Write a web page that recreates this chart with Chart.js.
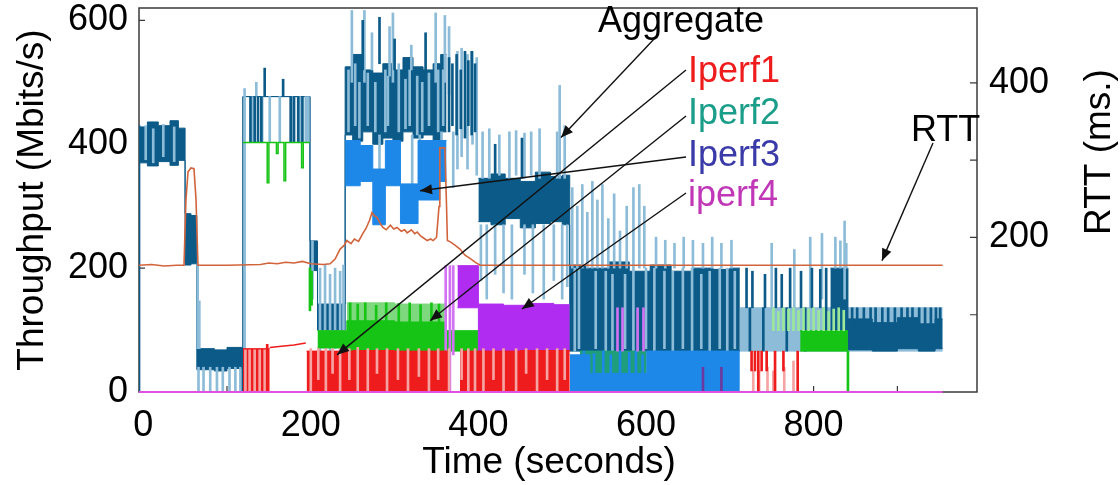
<!DOCTYPE html>
<html><head><meta charset="utf-8">
<script src="https://cdn.jsdelivr.net/npm/chart.js@4/dist/chart.umd.min.js"></script>
<style>html,body{margin:0;padding:0;background:#fff}#wrap{width:1120px;height:485px}</style>
</head><body><div id="wrap"><canvas id="c" width="1120" height="485"></canvas></div>
<script>
// ---------- DATA (time in s, throughput in Mbit/s, RTT in ms) ----------
const xTicks = [0, 200, 400, 600, 800];
const yTicks = [0, 200, 400, 600];
const rttTicks = [200, 400];

// Aggregate dense band [t, low, high]
const aggBand = [
 [-5,370,428],[5,365,436],[18,372,430],[32,366,438],[42,374,426],
 [50,205,288],[57,207,285],[64,36,70],[85,34,68],[100,38,72],
 [119,477,477],[199,196,244],[208,100,142],
 [241,415,525],[250,405,545],[262,420,520],[274,400,515],[286,410,530],[298,405,520],
 [310,420,540],[322,410,525],[334,415,520],[346,405,530],[355,420,545],[362,420,545],[362,null,null],
 [400,275,345],[415,270,352],[432,280,345],[450,265,340],[468,272,355],[486,275,348],[500,270,350],
 [509,66,205],[530,66,200],[555,66,210],[580,66,195],[605,66,205],[630,66,195],[655,66,200],
 [680,66,198],[700,66,200],[712,66,200],[712,null,null],
 [820,99,200],[841,68,118],[870,66,112],[900,70,120],[925,66,110],[945,70,118],[954,70,118]
];
const aggLightBand = [[712,66,136],[841,66,136],[954,66,136]];
const aggDarkSpikes = [
 [-5,0,430],[119,0,70],[128,403,477],[133,403,477],[137,403,477],[141,403,477],
 [145,477,523],[167,477,505],[176,403,477],[180,403,477],[185,403,477],[190,403,477],
 [262,520,600],[282,530,605],[300,520,570],[337,520,580],
 [365,420,540],[369,430,530],[374,415,545],[379,425,520],[384,410,550],[388,430,535],[392,415,550],[396,420,530],
 [420,345,400],[452,345,410],[605,0,66],[611,0,66],
 [720,136,200],[727,136,195],[742,136,190],[755,136,200],[762,136,190],[772,136,200],[785,136,195],
 [798,136,200],[808,136,198],[815,99,200],[724,66,136],[740,66,136],[768,66,136],[790,66,136],
 [846,100,136],[852,100,136],[860,100,136],[868,100,136],[874,100,136],[882,100,136],[889,100,136],[897,100,136],
 [905,100,136],[912,100,136],[918,100,136],[926,100,136],[933,100,136],[940,100,136],[946,100,136],[951,100,136]
];
const aggLightSpikes = [
 [3,375,430],[12,370,425],[24,380,432],[37,372,428],
 [65,70,207],[67,70,147],[66,0,40],[72,0,40],[80,0,40],[88,0,40],[95,0,40],[103,0,40],[110,0,40],[116,0,40],
 [121,70,490],[130,403,477],[135,477,500],[142,403,477],[151,403,477],[163,403,477],[178,403,477],[187,403,477],[194,403,477],[197,403,477],
 [202,150,244],[211,60,200],[217,70,205],[223,60,190],[229,70,200],[235,65,195],[239,100,205],
 [249,500,616],[264,500,616],[273,520,580],[294,510,590],[298,500,612],[320,520,560],[349,500,612],[360,500,608],[365,480,590],
 [245,420,520],[253,430,530],[258,410,500],[268,430,515],[277,420,500],[289,420,520],[292,430,510],[305,420,530],
 [313,425,505],[318,430,520],[327,415,510],[333,420,500],[341,430,515],[352,420,520],[358,430,520],
 [282,340,415],[321,330,415],[330,340,415],[356,340,420],[370,330,420],
 [375,360,550],[380,380,555],[387,360,545],[393,400,550],[398,350,540],
 [405,345,420],[413,345,425],[425,350,415],[437,345,420],[445,350,422],[455,345,418],[463,350,420],[473,345,425],[494,345,420],[497,345,495],[503,345,430],
 [403,180,270],[410,150,270],[420,190,270],[430,160,270],[440,150,270],[455,190,270],[465,160,270],[478,150,270],[490,180,270],[500,150,270],[506,170,270],
 [512,200,330],[518,200,300],[524,200,335],[530,200,290],[536,200,340],[542,200,310],[548,200,335],[555,200,280],[562,200,320],[569,200,260],
 [577,200,300],[585,200,330],[592,200,335],[598,200,300],[612,200,250],[623,200,245],[634,200,240],[645,200,250],[656,200,245],[668,200,240],
 [679,200,250],[690,200,240],[702,200,245],
 [515,66,200],[520,70,200],[540,70,195],[552,66,195],[560,66,190],[575,70,190],[585,66,200],[600,70,200],[610,66,200],
 [622,70,195],[632,66,195],[644,70,200],[655,66,200],[666,70,190],[676,66,195],[688,70,200],[697,66,200],[706,70,195],
 [750,136,240],[777,136,230],[796,136,250],[810,150,256],[826,200,250],[832,200,244],[837,150,276],[839,200,240]
];
// Iperf1
const iperf1Fill = [[119,70],[151,70],[151,null],[195,66],[250,67],[300,66],[366,67],[372,null],[378,66],[450,67],[509,66],[509,null]];
const iperf1Line = [[151,72],[165,74],[180,76],[194,79]];
const iperf1Pink = [
 [122,0,68],[127,0,68],[133,0,68],[139,0,68],[145,0,68],
 [200,0,70],[209,20,70],[218,0,70],[226,30,70],[235,0,70],[246,20,70],[256,0,72],[268,0,70],[279,30,70],[291,0,70],
 [304,20,70],[316,0,70],[329,25,70],[341,0,70],[352,20,70],[365,0,70],[380,20,70],[388,0,70],[396,0,70],
 [406,0,70],[418,20,70],[430,0,70],[445,0,70],[457,30,70],[470,0,70],[482,20,70],[494,0,70],[503,20,70],
 [728,0,34],[735,0,34],[745,0,40],[752,0,34],[765,0,40],[776,0,50]
];
const iperf1Red = [[148,0,77],[726,34,66],[730,34,66],[734,0,66],[738,34,66],[744,34,66],[754,0,66],[764,34,66],[781,0,66]];
// Iperf2
const iperf2Line = [[119,403],[147,403],[148,338],[150,403],[159,385],[161,403],[168,341],[170,403],[189,362],[191,403],[199,403]];
const iperf2Band = [[208,71,99],[241,71,99],[243,66,115],[300,66,113],[360,66,99],[400,66,99],[400,null,null],
 [784,66,99],[841,66,99],[841,null,null]];
const iperf2LightBand = [[243,115,144],[300,113,142],[360,113,144],[360,null,null]];
const iperf2TealBand = [[521,30,66],[601,30,66]];
const iperf2Spikes = [[199,131,200],[201,140,195],[841,0,66],
 [247,110,144],[256,110,142],[265,110,144],[278,110,140],[290,110,144],[305,110,143],[318,110,144],[331,110,141],[344,110,144],[353,110,142]];
const iperf2Light = [[752,99,136],[758,99,130],[764,99,136],[770,99,134],[776,99,136],[782,99,132],[788,99,136],[794,99,134],
 [800,99,136],[806,99,132],[812,99,136],[818,99,130],[824,99,134],[830,99,136],[836,99,132]];
// Iperf3
const iperf3Band = [[241,333,406],[259,340,398],[274,270,360],[289,333,406],[307,272,336],[328,310,406],[354,340,406],[362,340,406],[362,null,null],
 [509,0,60],[533,0,30],[601,0,66],[712,0,66]];
const iperf3Spikes = [[526,0,66],[538,0,62],[549,0,66],[558,0,60],[569,0,66],[580,0,64],[588,0,66],[596,0,60]];
// iperf4
const iperf4Band = [[375,136,204],[400,66,142],[430,66,140],[460,66,143],[490,66,141],[509,66,141]];
const iperf4Spikes = [[361,0,204],[366,0,204],[370,60,204],[566,66,136],[572,66,136],[590,66,136],[597,66,136]];
const iperf4Dark = [[668,0,40],[690,0,40]];
const iperf4Zero = [[-5,0],[954,0]];
// RTT (right axis)
const rtt = [
 [-5,164],[10,165],[25,163],[40,164],[48.7,164],[51,248],[53.5,285],[57,290],[60.6,289],[63,250],[65.4,164],
 [100,164],[140,165],[150,167],[160,166],[170,168],[180,167],[190,169],[200,166],[215,165],[223,166],
 [229,172],[235,185],[240,190],[243,196],[248,192],[252,198],[257,195],[262,205],[266,212],[270,222],[273,232],
 [276,228],[279,226],[283,218],[286,213],[290,210],[295,216],[299,211],[303,213],[308,208],[312,210],[315,206],
 [320,210],[324,205],[327,207],[331,202],[335,199],[339,196],[343,198],[346,196],[350,200],[353,240],[354,316],
 [360,316],[362,240],[363,196],[367,194],[372,190],[378,185],[384,177],[390,173],[396,168],[402,164],[954,164]
];

// ---------- helpers ----------
const FONT = '"Liberation Sans", Arial, Helvetica, sans-serif';
function band(arr, color, order) {
  return [
    {type:'line', data: arr.map(r=>({x:r[0], y:r[2]})), borderColor:color, backgroundColor:color, borderWidth:1,
     pointRadius:0, stepped:true, fill:'+1', order, yAxisID:'y', spanGaps:false},
    {type:'line', data: arr.map(r=>({x:r[0], y:r[1]})), borderColor:color, borderWidth:1,
     pointRadius:0, stepped:true, fill:false, order, yAxisID:'y', spanGaps:false}
  ];
}
function spikes(arr, color, order, w) {
  return {type:'bar', data: arr.map(r=>({x:r[0], y:[r[1], r[2]]})), backgroundColor:color, borderWidth:0,
    barThickness: w || 2, grouped:false, order, yAxisID:'y'};
}
function fillLine(arr, color, order) {
  return {type:'line', data: arr.map(r=>({x:r[0], y:r[1]})), borderColor:color, backgroundColor:color, borderWidth:1,
    pointRadius:0, stepped:true, fill:'origin', order, yAxisID:'y', spanGaps:false};
}
function line(arr, color, width, order, axis, stepped) {
  return {type:'line', data: arr.map(r=>({x:r[0], y:r[1]})), borderColor:color, borderWidth:width,
    pointRadius:0, stepped: !!stepped, fill:false, order, yAxisID: axis || 'y', spanGaps:false, clip: 4};
}

const C = {
  aggDark:'#0b5a88', aggLight:'#8dbcd9', red:'#ee1c1c', pink:'#f6a3a3', green:'#16c416', lightGreen:'#7ed87e',
  teal:'#1f9e7c', blue:'#1e88e8', purple:'#b02cf0', magenta:'#e050e0', rtt:'#d2643c'
};

const datasets = [
  ...band(aggLightBand, C.aggLight, 100),
  ...band(aggBand, C.aggDark, 99),
  spikes(aggLightSpikes, C.aggLight, 98),
  spikes(aggDarkSpikes, C.aggDark, 97),
  ...band(iperf2LightBand, C.lightGreen, 91),
  ...band(iperf2Band, C.green, 90),
  ...band(iperf2TealBand, C.teal, 89),
  line(iperf2Line, C.green, 1.5, 88, 'y', true),
  spikes(iperf2Spikes, C.green, 87),
  spikes(iperf2Light, '#9be89b', 86),
  ...band(iperf3Band, C.blue, 80),
  spikes(iperf3Spikes, C.blue, 79),
  ...band(iperf4Band, C.purple, 75),
  spikes(iperf4Spikes, '#d173f2', 74),
  spikes(iperf4Dark, '#6a3aa0', 73),
  fillLine(iperf1Fill, C.red, 70),
  line(iperf1Line, C.red, 1.5, 69),
  spikes(iperf1Pink, C.pink, 68),
  spikes(iperf1Red, C.red, 67),
  line(iperf4Zero, C.magenta, 2, 60),
  line(rtt, C.rtt, 1.6, 50, 'y1')
];

function zeroPad(s){ s.paddingTop=0; s.paddingBottom=0; s.paddingLeft=0; s.paddingRight=0; }

const decor = {
  id:'decor',
  beforeDatasetsDraw(chart) {
    const {ctx, chartArea:a, scales:{x, y, y1}} = chart;
    ctx.save();
    ctx.strokeStyle = '#3a3a3a'; ctx.lineWidth = 1.5;
    ctx.strokeRect(a.left, a.top, a.right-a.left, a.bottom-a.top);
    ctx.lineWidth = 1.2;
    ctx.beginPath();
    yTicks.forEach(v=>{ const p=y.getPixelForValue(v); ctx.moveTo(a.left,p); ctx.lineTo(a.left+6,p); });
    [100,200,300,400].forEach(v=>{ const p=y1.getPixelForValue(v); ctx.moveTo(a.right,p); ctx.lineTo(a.right-7,p); });
    [100,200,300,400,500,600,700,800,900].forEach(v=>{ const p=x.getPixelForValue(v); ctx.moveTo(p,a.bottom); ctx.lineTo(p,a.bottom-6); });
    ctx.stroke();
    ctx.restore();
  },
  afterDatasetsDraw(chart) {
    const {ctx, scales:{x, y, y1}} = chart;
    ctx.save();
    ctx.font = '36px ' + FONT;
    ctx.textBaseline = 'alphabetic';
    const texts = [
      ['Aggregate', 598, 32, '#000'], ['Iperf1', 688, 82, '#ee1c1c'], ['Iperf2', 688, 124, '#1a9e8a'],
      ['Iperf3', 688, 166, '#3a3aa8'], ['iperf4', 688, 206, '#c038b8'], ['RTT', 911, 141, '#000']
    ];
    texts.forEach(([t, px, py, c]) => { ctx.fillStyle = c; ctx.fillText(t, px, py); });
    const arrows = [
      [655, 38, x.getPixelForValue(498.6), y.getPixelForValue(411)],
      [686, 70, x.getPixelForValue(231.3), y.getPixelForValue(60)],
      [686, 116, x.getPixelForValue(342.3), y.getPixelForValue(115)],
      [686, 157, x.getPixelForValue(330.3), y.getPixelForValue(325)],
      [686, 193, x.getPixelForValue(452), y.getPixelForValue(134)],
      [933, 143, x.getPixelForValue(881.6), y1.getPixelForValue(170)]
    ];
    ctx.strokeStyle = '#111'; ctx.fillStyle = '#111'; ctx.lineWidth = 1.4;
    arrows.forEach(([x1,y1p,x2,y2]) => {
      ctx.beginPath(); ctx.moveTo(x1,y1p); ctx.lineTo(x2,y2); ctx.stroke();
      const ang = Math.atan2(y2-y1p, x2-x1), L = 12, W = 5;
      ctx.beginPath(); ctx.moveTo(x2,y2);
      ctx.lineTo(x2-L*Math.cos(ang)+W*Math.sin(ang), y2-L*Math.sin(ang)-W*Math.cos(ang));
      ctx.lineTo(x2-L*Math.cos(ang)-W*Math.sin(ang), y2-L*Math.sin(ang)+W*Math.cos(ang));
      ctx.closePath(); ctx.fill();
    });
    // axis titles
    ctx.fillStyle = '#000';
    ctx.font = '37px ' + FONT;
    ctx.textAlign = 'center'; ctx.textBaseline = 'middle';
    ctx.fillText('Time (seconds)', 549, 463);
    ctx.save();
    ctx.translate(1100, 152); ctx.rotate(-Math.PI/2);
    ctx.fillText('RTT (ms.)', 0, 0);
    ctx.restore();
    ctx.restore();
  }
};

new Chart(document.getElementById('c'), {
  type:'line',
  data:{ datasets },
  options:{
    responsive:false, animation:false, devicePixelRatio:1,
    layout:{ padding:{ top:8, left:0, right:0, bottom:0 } },
    plugins:{ legend:{display:false}, tooltip:{enabled:false} },
    scales:{
      x:{ type:'linear', min:-5, max:995, offset:false,
          grid:{display:false, drawTicks:false}, border:{display:false},
          afterBuildTicks: s => { s.ticks = xTicks.map(v=>({value:v})); },
          afterFit: s => { s.height = 93; zeroPad(s); },
          ticks:{ color:'#000', font:{family:FONT, size:36}, padding:12, maxRotation:0, autoSkip:false },
          title:{ display:false } },
      y:{ type:'linear', position:'left', min:0, max:620,
          grid:{display:false, drawTicks:false}, border:{display:false},
          afterBuildTicks: s => { s.ticks = yTicks.map(v=>({value:v})); },
          afterFit: s => { s.width = 139; zeroPad(s); },
          ticks:{ color:'#000', font:{family:FONT, size:36}, padding:11 },
          title:{ display:true, text:'Throughput (Mbits/s)', color:'#000', font:{family:FONT, size:37}, padding:{top:11, bottom:0} } },
      y1:{ type:'linear', position:'right', min:0, max:497,
          grid:{display:false, drawTicks:false}, border:{display:false},
          afterBuildTicks: s => { s.ticks = rttTicks.map(v=>({value:v})); },
          afterFit: s => { s.width = 143; zeroPad(s); },
          ticks:{ color:'#000', font:{family:FONT, size:36}, padding:12 } }
    }
  },
  plugins:[decor]
});
</script></body></html>
